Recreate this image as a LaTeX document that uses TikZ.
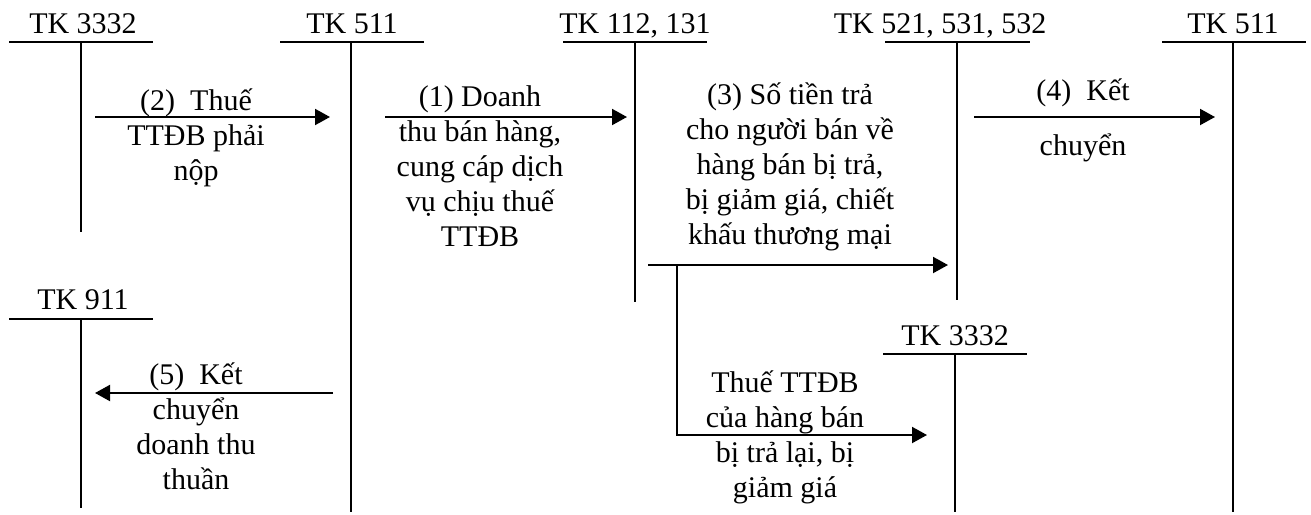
\documentclass[tikz,border=0pt]{standalone}
\usepackage{fontspec}
\setmainfont{Liberation Serif}
\usetikzlibrary{arrows.meta}
\tikzset{
  acctitle/.style={font=\fontsize{15}{17}\selectfont, inner sep=0pt, anchor=base},
  acctline/.style={line width=1pt},
  entryarrow/.style={-{Triangle[length=7.5pt,width=8pt]}, line width=1pt},
  entrytext/.style={font=\fontsize{15}{17.5}\selectfont, align=center, inner sep=0pt}
}

\begin{document}
\begin{tikzpicture}[x=0.5pt, y=-0.5pt]
  \useasboundingbox (0,0) rectangle (1311,514);
  % account titles
  \node[acctitle] (tk3332) at (83,33) {TK 3332};
  \node[acctitle] (tk511a) at (352,33) {TK 511};
  \node[acctitle] (tk112) at (635,33) {TK 112, 131};
  \node[acctitle] (tk521) at (940,33) {TK 521, 531, 532};
  \node[acctitle] (tk511b) at (1233,33) {TK 511};
  \node[acctitle] (tk911) at (83,309) {TK 911};
  \node[acctitle] (tk3332b) at (955,345) {TK 3332};
  % T shapes
  \draw[acctline] (9,42) -- (153,42) (81,42) -- (81,232);
  \draw[acctline] (280,42) -- (424,42) (351,42) -- (351,512);
  \draw[acctline] (563,42) -- (707,42) (635,42) -- (635,302);
  \draw[acctline] (885,42) -- (1030,42) (957,42) -- (957,300);
  \draw[acctline] (1162,42) -- (1306,42) (1233,42) -- (1233,512);
  \draw[acctline] (9,319) -- (153,319) (81,319) -- (81,508);
  \draw[acctline] (883,354) -- (1027,354) (955,354) -- (955,512);
  % arrow ends
  \coordinate (e2a) at (95,117);
  \coordinate (e2b) at (330,117);
  \coordinate (e1a) at (385,117);
  \coordinate (e1b) at (627,117);
  \coordinate (e3a) at (648,265);
  \coordinate (e3b) at (948,265);
  \coordinate (e3c) at (677,265);
  \coordinate (e3d) at (927,435);
  \coordinate (e4a) at (974,117);
  \coordinate (e4b) at (1215,117);
  \coordinate (e5a) at (333,393);
  \coordinate (e5b) at (95,393);
  \draw[entryarrow] (e2a) -- (e2b);
  \draw[entryarrow] (e1a) -- (e1b);
  \draw[entryarrow] (e3a) -- (e3b);
  \draw[entryarrow] (e3c) |- (e3d);
  \draw[entryarrow] (e4a) -- (e4b);
  \draw[entryarrow] (e5a) -- (e5b);
  % texts
  \node[entrytext] (n2) at (196,138) {(2)\ \ Thuế\\TTĐB phải\\nộp};
  \node[entrytext] (n1) at (480,166) {(1) Doanh\\thu bán hàng,\\cung cáp dịch\\vụ chịu thuế\\TTĐB};
  \node[entrytext] (n3) at (790,167) {(3) Số tiền trả\\cho người bán về\\hàng bán bị trả,\\bị giảm giá, chiết\\khấu thương mại};
  \node[entrytext] (n4) at (1083,120) {(4)\ \ Kết\\[10pt]chuyển};
  \node[entrytext] (n5) at (196,426) {(5)\ \ Kết\\chuyển\\doanh thu\\thuần};
  \node[entrytext] (n6) at (785,437) {Thuế TTĐB\\của hàng bán\\bị trả lại, bị\\giảm giá};
\end{tikzpicture}
\end{document}
